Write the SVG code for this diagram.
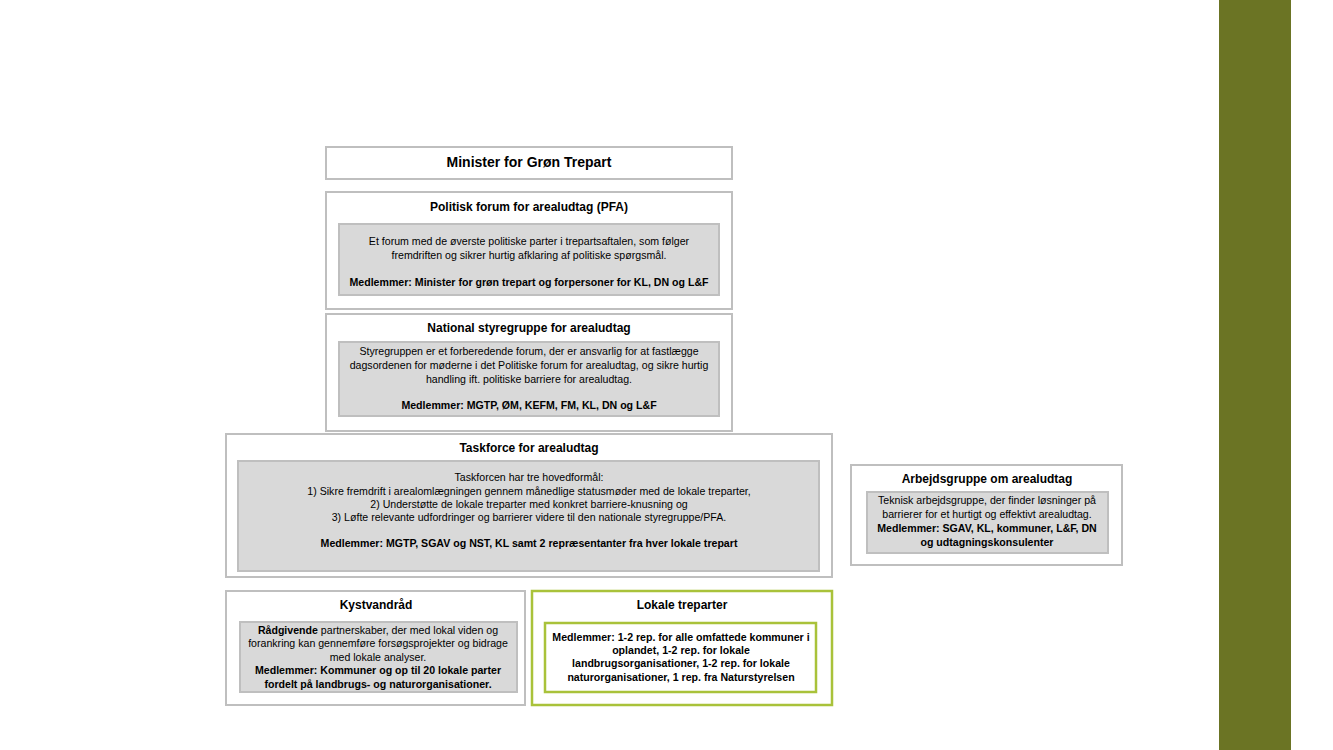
<svg xmlns="http://www.w3.org/2000/svg" width="1333" height="750" viewBox="0 0 1333 750">
<style>
text{font-family:"Liberation Sans",Arial,sans-serif;fill:#000;text-anchor:middle}
.outer{fill:#fff;stroke:#bfbfbf;stroke-width:2}
.inner{fill:#d9d9d9;stroke:#bfbfbf;stroke-width:2}
.gouter{fill:#fff;stroke:#a9c23a;stroke-width:2.5}
.t{font-size:12px;font-weight:bold}
.b{font-size:10.6px}
.m{font-size:10.6px;font-weight:bold}
</style>
<rect width="1333" height="750" fill="#fff"/>
<rect x="1219" y="0" width="72" height="750" fill="#6b7424"/>

<g id="minister">
<rect class="outer" x="326" y="147" width="406" height="32"/>
<text x="529" y="167" style="font-size:14px;font-weight:bold">Minister for Grøn Trepart</text>
</g>

<g id="pfa">
<rect class="outer" x="326" y="192" width="406" height="117"/>
<text class="t" x="529" y="211">Politisk forum for arealudtag (PFA)</text>
<rect class="inner" x="339" y="224" width="380" height="71"/>
<text class="b" x="529" y="245">Et forum med de øverste politiske parter i trepartsaftalen, som følger</text>
<text class="b" x="529" y="259">fremdriften og sikrer hurtig afklaring af politiske spørgsmål.</text>
<text class="m" x="529" y="286">Medlemmer: Minister for grøn trepart og forpersoner  for KL, DN og L&amp;F</text>
</g>

<g id="national">
<rect class="outer" x="326" y="314" width="406" height="117"/>
<text class="t" x="529" y="332">National styregruppe for arealudtag</text>
<rect class="inner" x="339" y="342" width="380" height="74"/>
<text class="b" x="529" y="355">Styregruppen er et forberedende forum, der er ansvarlig for at fastlægge</text>
<text class="b" x="529" y="369">dagsordenen for møderne i det Politiske forum for arealudtag, og sikre hurtig</text>
<text class="b" x="529" y="383">handling ift. politiske barriere for arealudtag.</text>
<text class="m" x="529" y="409">Medlemmer: MGTP, ØM, KEFM, FM, KL, DN og L&amp;F</text>
</g>

<g id="taskforce">
<rect class="outer" x="226" y="434" width="606" height="143"/>
<text class="t" x="529" y="452">Taskforce for arealudtag</text>
<rect class="inner" x="238" y="461" width="581" height="110"/>
<text class="b" x="529" y="481">Taskforcen har tre hovedformål:</text>
<text class="b" x="529" y="495">1) Sikre fremdrift i arealomlægningen gennem månedlige statusmøder med de lokale treparter,</text>
<text class="b" x="529" y="508">2) Understøtte de lokale treparter med konkret barriere-knusning og</text>
<text class="b" x="529" y="521">3) Løfte relevante udfordringer og barrierer videre til den nationale styregruppe/PFA.</text>
<text class="m" x="529" y="547">Medlemmer: MGTP, SGAV og NST, KL samt 2 repræsentanter fra hver lokale trepart</text>
</g>

<g id="arbejdsgruppe">
<rect class="outer" x="851" y="465" width="271" height="100"/>
<text class="t" x="987" y="483">Arbejdsgruppe om arealudtag</text>
<rect class="inner" x="867" y="492" width="241" height="61"/>
<text class="b" x="987" y="504">Teknisk arbejdsgruppe, der finder løsninger på</text>
<text class="b" x="987" y="518">barrierer for et hurtigt og effektivt arealudtag.</text>
<text class="m" x="987" y="532">Medlemmer: SGAV, KL, kommuner, L&amp;F, DN</text>
<text class="m" x="987" y="546">og udtagningskonsulenter</text>
</g>

<g id="kystvandraad">
<rect class="outer" x="226" y="591" width="299" height="114"/>
<text class="t" x="376" y="609">Kystvandråd</text>
<rect class="inner" x="240" y="622" width="277" height="70"/>
<text class="b" x="378" y="634"><tspan font-weight="bold">Rådgivende</tspan> partnerskaber, der med lokal viden og</text>
<text class="b" x="378" y="647">forankring kan gennemføre forsøgsprojekter og bidrage</text>
<text class="b" x="378" y="661">med lokale analyser.</text>
<text class="m" x="378" y="674">Medlemmer: Kommuner og op til 20 lokale parter</text>
<text class="m" x="378" y="688">fordelt på landbrugs- og naturorganisationer.</text>
</g>

<g id="lokale">
<rect class="gouter" x="532" y="591" width="300" height="114"/>
<text class="t" x="682" y="609">Lokale treparter</text>
<rect class="gouter" x="545" y="623" width="271" height="69"/>
<text class="m" x="681" y="641">Medlemmer: 1-2 rep. for alle omfattede kommuner i</text>
<text class="m" x="681" y="654">oplandet, 1-2 rep. for lokale</text>
<text class="m" x="681" y="667">landbrugsorganisationer, 1-2 rep. for lokale</text>
<text class="m" x="681" y="681">naturorganisationer, 1 rep. fra Naturstyrelsen</text>
</g>

<g id="connectors"></g>
</svg>
